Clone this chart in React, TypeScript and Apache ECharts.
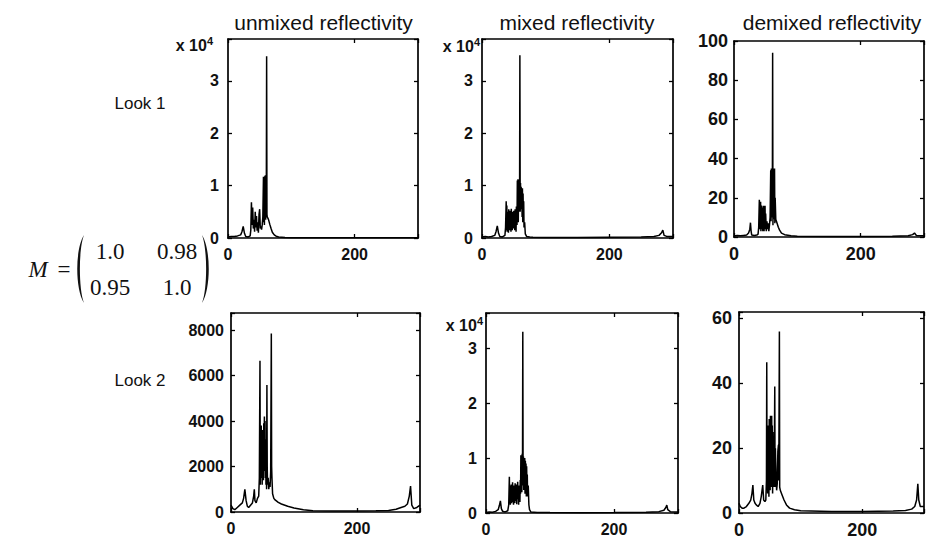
import React, { useEffect, useRef } from "react";
import * as echarts from "echarts";

type Pt = [number, number];

// ---------- texts ----------
const columnTitles = ["unmixed reflectivity", "mixed reflectivity", "demixed reflectivity"];
const rowLabels = ["Look 1", "Look 2"];
const matrixRows = [
  ["1.0", "0.98"],
  ["0.95", "1.0"],
];
const xTickValues = [0, 200];

// ---------- data (range bin, reflectivity) ----------
const unmixedLook1: Pt[] = [
  [0, 200], [5, 300], [10, 300], [15, 400], [20, 600], [22, 1200], [24, 2200], [26, 900], [28, 300],
  [32, 200], [35, 400], [36, 1500], [37, 6800], [38, 2500], [39, 5800], [40, 1800], [41, 3500],
  [42, 1200], [43, 5000], [44, 2000], [45, 4200], [46, 1400], [47, 3000], [48, 1000], [49, 4500],
  [50, 5500], [51, 1800], [52, 2200], [53, 1600], [54, 2500], [55, 4000], [56, 11700], [56.5, 3000],
  [57, 11500], [57.5, 2500], [58, 11800], [58.5, 5000], [59, 12000], [59.5, 3500], [60, 11000],
  [60.5, 8000], [61, 34700], [61.5, 4500], [62, 4000], [63, 3800], [64, 3500], [66, 2600], [68, 1800],
  [70, 1100], [73, 600], [76, 350], [80, 200], [90, 100], [100, 50], [150, 30], [200, 30], [250, 40],
  [280, 60], [290, 50], [300, 40],
];

const mixedLook1: Pt[] = [
  [0, 200], [5, 300], [10, 200], [15, 300], [20, 500], [22, 1200], [24, 2300], [26, 900], [28, 300],
  [32, 200], [36, 500], [37, 2000], [38, 7000], [38.5, 1500], [39, 6200], [39.5, 1200], [40, 5000],
  [40.5, 2500], [41, 4800], [41.5, 1000], [42, 5500], [42.5, 2000], [43, 4500], [43.5, 1500],
  [44, 5200], [44.5, 2500], [45, 4000], [45.5, 1200], [46, 5600], [46.5, 3000], [47, 4200],
  [47.5, 1500], [48, 5000], [48.5, 2200], [49, 4600], [49.5, 1800], [50, 5200], [50.5, 2500],
  [51, 4800], [51.5, 1500], [52, 5500], [52.5, 2000], [53, 4500], [53.5, 1200], [54, 6000],
  [55, 2500], [55.5, 11000], [56, 4000], [56.5, 11200], [57, 3000], [57.5, 10800], [58, 5000],
  [58.5, 11100], [59, 6000], [59.5, 34900], [60, 5000], [60.5, 10500], [61, 6000], [61.5, 9800],
  [62, 5500], [62.5, 9000], [63, 4000], [63.5, 9500], [64, 3000], [64.5, 8500], [65, 4000],
  [65.5, 7000], [66, 2000], [67, 3000], [68, 800], [70, 300], [75, 200], [80, 150], [100, 100],
  [150, 100], [200, 150], [250, 200], [270, 300], [278, 500], [282, 1000], [284, 1500], [286, 500],
  [290, 300], [300, 300],
];

const demixedLook1: Pt[] = [
  [0, 0.5], [5, 0.8], [10, 0.6], [15, 0.8], [20, 1], [23, 2], [25, 4], [26, 7.3], [27, 3], [28, 1],
  [32, 0.8], [36, 1], [38, 1.5], [39, 5], [40, 19], [40.5, 4], [41, 17], [41.5, 6], [42, 18],
  [42.5, 3], [43, 16], [43.5, 8], [44, 15], [44.5, 4], [45, 10], [45.5, 3], [46, 16], [46.5, 5],
  [47, 16], [47.5, 3], [48, 15], [48.5, 6], [49, 16], [49.5, 4], [50, 12], [51, 3], [52, 8], [53, 4],
  [54, 7], [55, 3], [56, 6], [57, 10], [58, 34], [58.5, 8], [59, 35], [59.5, 12], [60, 34],
  [60.5, 10], [61, 94], [61.5, 6], [62, 35], [62.5, 9], [63, 33], [63.5, 12], [64, 35], [64.5, 7],
  [65, 20], [66, 9], [67, 8], [68, 7], [70, 5], [72, 3.5], [75, 2], [80, 1.2], [90, 0.6], [100, 0.4],
  [150, 0.3], [200, 0.3], [250, 0.4], [275, 0.6], [282, 1.2], [285, 2], [288, 0.8], [300, 0.6],
];

const unmixedLook2: Pt[] = [
  [0, 300], [3, 150], [6, 100], [10, 200], [14, 300], [18, 400], [20, 600], [22, 1000], [24, 500],
  [26, 250], [28, 200], [31, 300], [34, 400], [36, 700], [37, 1000], [38, 500], [40, 400], [42, 600],
  [44, 700], [45, 1500], [46, 6650], [46.5, 1200], [47, 3500], [47.5, 1500], [48, 3800],
  [48.5, 1800], [49, 3000], [49.5, 1200], [50, 3600], [50.5, 2000], [51, 3400], [51.5, 1400],
  [52, 3900], [52.5, 2500], [53, 4200], [53.5, 1800], [54, 4000], [54.5, 1500], [55, 3200],
  [55.5, 1200], [56, 2500], [56.5, 1000], [57, 5580], [57.5, 2000], [58, 1200], [59, 1500],
  [60, 1000], [61, 1300], [62, 1100], [63, 1800], [64, 7850], [64.5, 2000], [65, 1500], [66, 800],
  [68, 600], [70, 530], [75, 420], [80, 350], [90, 250], [100, 180], [115, 100], [130, 50],
  [160, 40], [200, 40], [230, 50], [250, 70], [262, 120], [270, 200], [276, 250], [280, 350],
  [283, 700], [285, 1140], [287, 300], [290, 150], [295, 200], [300, 300],
];

const mixedLook2: Pt[] = [
  [0, 100], [5, 200], [10, 150], [15, 300], [19, 600], [21, 1400], [22.5, 2200], [24, 800],
  [26, 300], [30, 200], [34, 400], [35.5, 1500], [36.5, 6600], [37, 2000], [37.5, 5000], [38, 1500],
  [38.5, 4800], [39, 2500], [39.5, 5200], [40, 1800], [40.5, 4400], [41, 3000], [41.5, 5600],
  [42, 2000], [42.5, 4600], [43, 1500], [43.5, 5000], [44, 2600], [44.5, 4200], [45, 1800],
  [45.5, 5400], [46, 3000], [46.5, 4800], [47, 2200], [47.5, 5200], [48, 1600], [48.5, 4500],
  [49, 3000], [49.5, 5700], [50, 2500], [50.5, 4200], [51, 1500], [51.5, 5000], [52, 3200],
  [52.5, 4800], [53, 2000], [53.5, 6000], [54, 3500], [54.5, 10500], [55, 4500], [55.5, 10200],
  [56, 3800], [56.5, 10800], [57, 6000], [57.5, 33000], [58, 5000], [58.5, 10300], [59, 4200],
  [59.5, 9800], [60, 6500], [60.5, 10000], [61, 3500], [61.5, 9500], [62, 5000], [62.5, 9000],
  [63, 3000], [63.5, 8500], [64, 4500], [64.5, 7000], [65, 3000], [66, 5000], [67, 1500], [68, 600],
  [70, 200], [75, 150], [80, 100], [100, 80], [150, 60], [200, 80], [250, 150], [270, 250],
  [278, 500], [281, 1000], [282.5, 1450], [284, 600], [288, 250], [300, 200],
];

const demixedLook2: Pt[] = [
  [0, 3], [2, 2], [5, 1.5], [8, 1.5], [12, 2], [16, 3], [19, 4], [21, 6], [22.5, 8.6], [24, 4],
  [26, 3], [28, 2.5], [31, 2], [34, 3], [36, 5], [38.5, 8.6], [40, 4], [42, 3.5], [43.5, 4],
  [44.5, 10], [45, 46.5], [45.5, 8], [46, 25], [46.5, 6], [47, 27], [47.5, 10], [48, 24], [48.5, 5],
  [49, 29], [49.5, 12], [50, 26], [50.5, 7], [51, 30], [51.5, 15], [52, 28], [52.5, 8], [53, 30],
  [53.5, 12], [54, 27], [54.5, 6], [55, 25], [55.5, 10], [56, 20], [57, 8], [58, 39], [58.5, 8],
  [59, 20], [60, 12], [61, 7], [62, 9], [63, 19], [64, 21], [64.5, 10], [65.5, 56], [66, 8], [67, 7],
  [68, 6.5], [70, 5.5], [73, 4], [77, 2.5], [82, 1.5], [90, 1], [100, 0.7], [150, 0.5], [200, 0.5],
  [250, 0.6], [270, 0.8], [280, 1.2], [285, 2], [288, 4], [290, 9], [291.5, 4], [294, 2], [300, 2],
];

// axis ranges per panel
const xMax = 300;
const yMaxes = [38000, 38000, 100, 8750, 36400, 62];
const yIntervals = [10000, 10000, 20, 2000, 10000, 20];
const yScales = [10000, 10000, 1, 1, 10000, 1];
const panelData = [unmixedLook1, mixedLook1, demixedLook1, unmixedLook2, mixedLook2, demixedLook2];

// ---------- layout (pixels) ----------
const boxes = [
  { left: 228, top: 39, width: 190, height: 199, labelMargin: 9, fs: 16 },
  { left: 482, top: 39, width: 191, height: 199, labelMargin: 9, fs: 16 },
  { left: 734, top: 41, width: 195, height: 196, labelMargin: 6, fs: 18 },
  { left: 231, top: 313, width: 189, height: 199, labelMargin: 7, fs: 16 },
  { left: 486, top: 313, width: 192, height: 200, labelMargin: 9, fs: 16 },
  { left: 739, top: 312, width: 189, height: 201, labelMargin: 7, fs: 18 },
];
const expLabelPos: Record<number, [number, number]> = { 0: [213, 45], 1: [480, 46], 4: [483, 325] };
const titleX = [323.5, 577, 832];
const titleY = 22;
const rowLabelPos: [number, number][] = [[140, 103], [140, 380]];

const SANS = "'Liberation Sans', Arial, Helvetica, sans-serif";
const SERIF = "'Liberation Serif', 'Times New Roman', serif";
const INK = "#111";

echarts.graphic.registerShape(
  "lparen",
  echarts.graphic.extendPath("M10 0 C1 14 1 54 10 68 C4.5 54 4.5 14 10 0 Z", {})
);
echarts.graphic.registerShape(
  "rparen",
  echarts.graphic.extendPath("M0 0 C9 14 9 54 0 68 C5.5 54 5.5 14 0 0 Z", {})
);

export default function App() {
  const ref = useRef<HTMLDivElement>(null);

  useEffect(() => {
    if (!ref.current) return;
    const chart = echarts.init(ref.current, undefined, { renderer: "svg" });

    const grid: any[] = [];
    const xAxis: any[] = [];
    const yAxis: any[] = [];
    const series: any[] = [];
    const axisLine = { show: true, onZero: false, lineStyle: { color: "#000", width: 1.7 } };
    const tick = { show: true, inside: true, length: 4, lineStyle: { color: "#000", width: 1.3 } };

    boxes.forEach((b, i) => {
      grid.push({ left: b.left, top: b.top, width: b.width, height: b.height, containLabel: false });
      const xCommon = {
        type: "value",
        gridIndex: i,
        min: 0,
        max: xMax,
        interval: 200,
        splitLine: { show: false },
        axisLine,
        axisTick: tick,
      };
      xAxis.push({
        ...xCommon,
        position: "bottom",
        axisLabel: {
          show: true,
          margin: 8,
          color: INK,
          fontSize: b.fs,
          fontWeight: "bold",
          fontFamily: SANS,
          formatter: (v: number) => (xTickValues.includes(v) ? String(v) : ""),
        },
      });
      xAxis.push({ ...xCommon, position: "top", axisLabel: { show: false } });

      const iv = yIntervals[i];
      const sc = yScales[i];
      const yCommon = {
        type: "value",
        gridIndex: i,
        min: 0,
        max: yMaxes[i],
        interval: iv,
        splitLine: { show: false },
        axisLine,
        axisTick: tick,
      };
      yAxis.push({
        ...yCommon,
        position: "left",
        axisLabel: {
          show: true,
          margin: b.labelMargin,
          color: INK,
          fontSize: b.fs,
          fontWeight: "bold",
          fontFamily: SANS,
          formatter: (v: number) => (Math.abs(v % iv) < 1e-9 ? String(v / sc) : ""),
        },
      });
      yAxis.push({ ...yCommon, position: "right", axisLabel: { show: false } });

      series.push({
        type: "line",
        xAxisIndex: 2 * i,
        yAxisIndex: 2 * i,
        data: panelData[i],
        showSymbol: false,
        symbol: "none",
        clip: true,
        lineStyle: { color: "#000", width: 1.5 },
      });
    });

    const graphic: any[] = [];
    columnTitles.forEach((t, i) => {
      graphic.push({
        type: "text",
        x: titleX[i],
        y: titleY,
        style: { text: t, fill: INK, fontSize: 21, fontFamily: SANS, align: "center", verticalAlign: "middle" },
      });
    });
    rowLabels.forEach((t, i) => {
      graphic.push({
        type: "text",
        x: rowLabelPos[i][0],
        y: rowLabelPos[i][1],
        style: { text: t, fill: INK, fontSize: 17, fontFamily: SANS, align: "center", verticalAlign: "middle" },
      });
    });
    Object.keys(expLabelPos).forEach((k) => {
      const [x, y] = expLabelPos[Number(k)];
      graphic.push({
        type: "text",
        x,
        y,
        style: {
          text: "x 10{s|4}",
          fill: INK,
          fontSize: 16,
          fontWeight: "bold",
          fontFamily: SANS,
          align: "right",
          verticalAlign: "middle",
          rich: {
            s: { fontSize: 11, fontWeight: "bold", fontFamily: SANS, fill: INK, verticalAlign: "top", padding: [0, 0, 8, 0] },
          },
        },
      });
    });

    // matrix annotation
    const mY = 269;
    graphic.push({
      type: "text",
      x: 38,
      y: mY,
      style: { text: "M", fill: INK, fontSize: 23, fontStyle: "italic", fontFamily: SERIF, align: "center", verticalAlign: "middle" },
    });
    graphic.push({
      type: "text",
      x: 64,
      y: mY,
      style: { text: "=", fill: INK, fontSize: 23, fontFamily: SERIF, align: "center", verticalAlign: "middle" },
    });
    graphic.push({ type: "lparen", x: 74, y: 235, style: { fill: INK } });
    graphic.push({ type: "rparen", x: 202, y: 235, style: { fill: INK } });
    const colX = [110, 177];
    const rowY = [251, 287];
    matrixRows.forEach((row, r) =>
      row.forEach((t, c) => {
        graphic.push({
          type: "text",
          x: colX[c],
          y: rowY[r],
          style: { text: t, fill: INK, fontSize: 23, fontFamily: SERIF, align: "center", verticalAlign: "middle" },
        });
      })
    );

    chart.setOption({
      animation: false,
      backgroundColor: "#fff",
      grid,
      xAxis,
      yAxis,
      series,
      graphic,
    });

    return () => chart.dispose();
  }, []);

  return (
    <div
      ref={ref}
      style={{ position: "fixed", left: 0, top: 0, width: 927, height: 542, background: "#fff" }}
    />
  );
}
